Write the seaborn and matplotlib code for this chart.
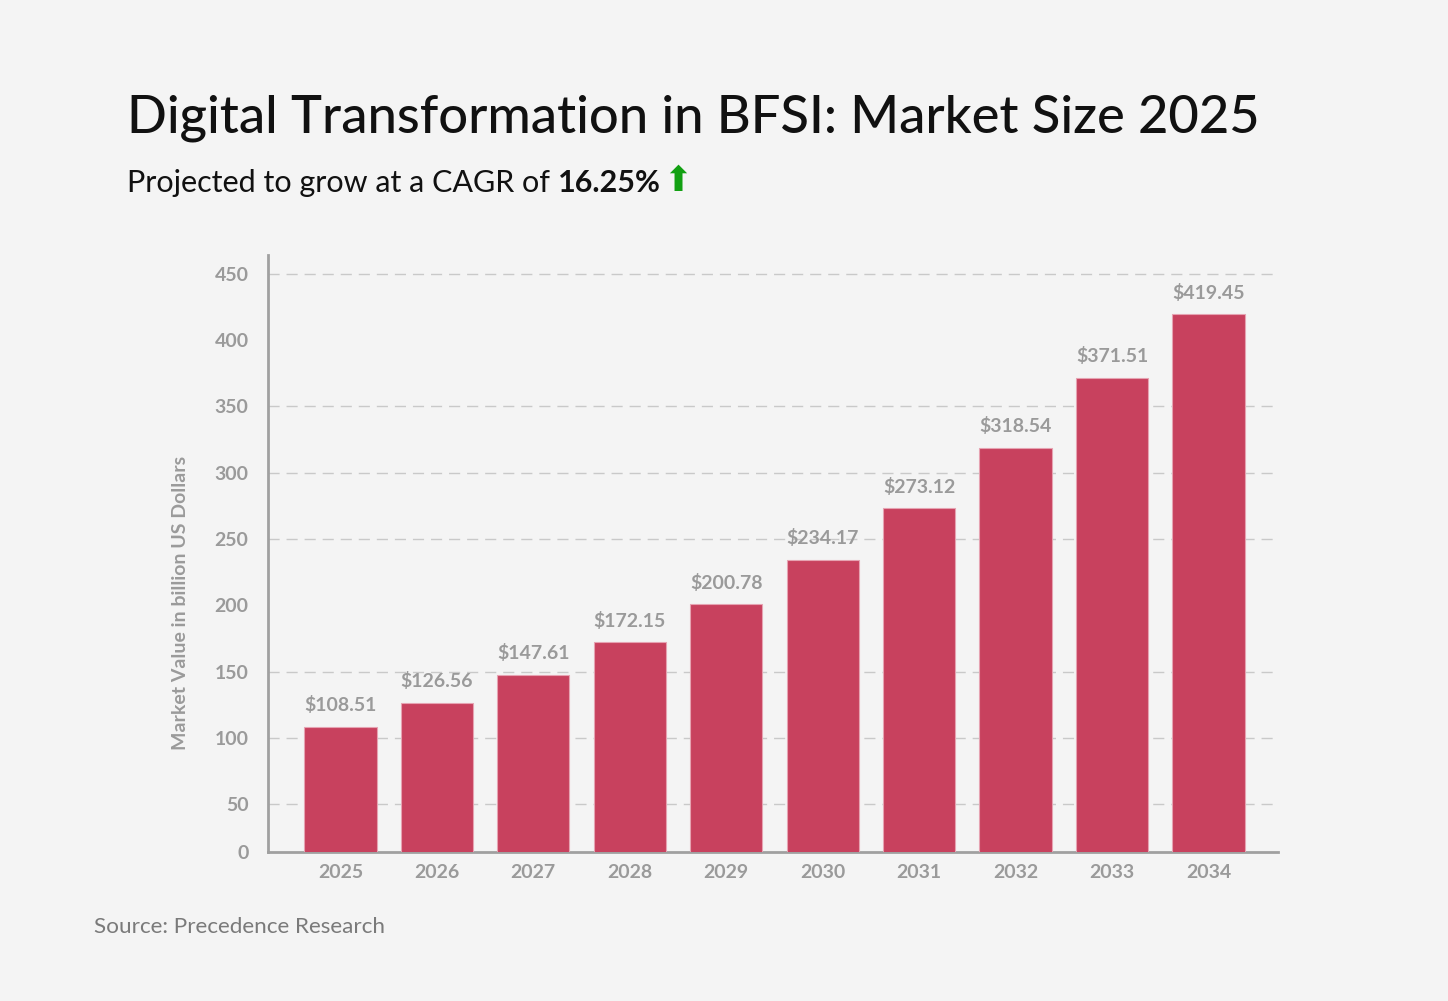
import matplotlib
matplotlib.use("Agg")
import matplotlib.pyplot as plt
import seaborn as sns
import pandas as pd

# data
years = ["2025", "2026", "2027", "2028", "2029", "2030", "2031", "2032", "2033", "2034"]
market_values = [108.51, 126.56, 147.61, 172.15, 200.78, 234.17, 273.12, 318.54, 371.51, 419.45]
bar_labels = ["$108.51", "$126.56", "$147.61", "$172.15", "$200.78",
              "$234.17", "$273.12", "$318.54", "$371.51", "$419.45"]
y_ticks = [14, 50, 100, 150, 200, 250, 300, 350, 400, 450]
y_tick_labels = ["0", "50", "100", "150", "200", "250", "300", "350", "400", "450"]

title = "Digital Transformation in BFSI: Market Size 2025"
subtitle = "Projected to grow at a CAGR of "
cagr = "16.25%"
source = "Source: Precedence Research"

bg = "#f4f4f4"
bar_color = "#c8415e"
gray = "#9a9a9a"

sns.set_style("white")
plt.rcParams["font.family"] = ["Lato", "DejaVu Sans"]

df = pd.DataFrame({"Year": years, "Value": market_values})

fig = plt.figure(figsize=(14.48, 10.01), dpi=100, facecolor=bg)
ax = fig.add_axes([0.1851, 0.1489, 0.6975, 0.5964], facecolor=bg)

sns.barplot(data=df, x="Year", y="Value", color=bar_color, saturation=1,
            width=0.75, edgecolor="#e6a3b2", linewidth=0.8, ax=ax, zorder=3)

ax.bar_label(ax.containers[0], labels=bar_labels, padding=9,
             fontsize=14, color=gray, fontweight="bold")

ax.set_ylim(14, 464)
ax.set_xlim(-0.75, 9.72)
ax.set_yticks(y_ticks)
ax.set_yticklabels(y_tick_labels)

# dashed grid (200 and 400 are not visible in the original)
for v in y_ticks[1:]:
    if v in (200, 400):
        continue
    ax.axhline(v, color="#c9c9c9", linestyle=(0, (8, 5)), linewidth=1, zorder=1)

ax.tick_params(axis="both", length=0, labelsize=14, labelcolor=gray)
ax.tick_params(axis="y", pad=14)
ax.tick_params(axis="x", pad=9)
for lbl in ax.get_xticklabels() + ax.get_yticklabels():
    lbl.set_fontweight("bold")

ax.set_xlabel("")
ax.set_ylabel("")
for s in ["top", "right"]:
    ax.spines[s].set_visible(False)
for s in ["left", "bottom"]:
    ax.spines[s].set_color("#a0a0a0")
    ax.spines[s].set_linewidth(2)

fig.text(180 / 1448, 1 - 603 / 1001, "Market Value in billion US Dollars",
         rotation=90, ha="center", va="center", fontsize=14, color=gray, fontweight="bold")

fig.text(127 / 1448, 1 - 118 / 1001, title, ha="left", va="center",
         fontsize=37.8, color="#111111", fontweight="medium")

sub = fig.text(127 / 1448, 1 - 183 / 1001, subtitle, ha="left", va="center",
               fontsize=22, color="#111111")
fig.canvas.draw()
r = fig.canvas.get_renderer()
bb = sub.get_window_extent(renderer=r)
pct = fig.text(bb.x1 / fig.bbox.width, 1 - 183 / 1001, cagr, ha="left", va="center",
               fontsize=22, color="#111111", fontweight="bold")
bb2 = pct.get_window_extent(renderer=r)
fig.text(bb2.x1 / fig.bbox.width + 0.002, 1 - 181 / 1001, "\u2b06", ha="left", va="center",
         fontsize=25, color="#12a012", family=["DejaVu Sans"])

fig.text(94 / 1448, 1 - 927 / 1001, source, ha="left", va="center",
         fontsize=16.2, color="#7a7a7a")

fig.savefig("out.png", dpi=100, facecolor=bg)
